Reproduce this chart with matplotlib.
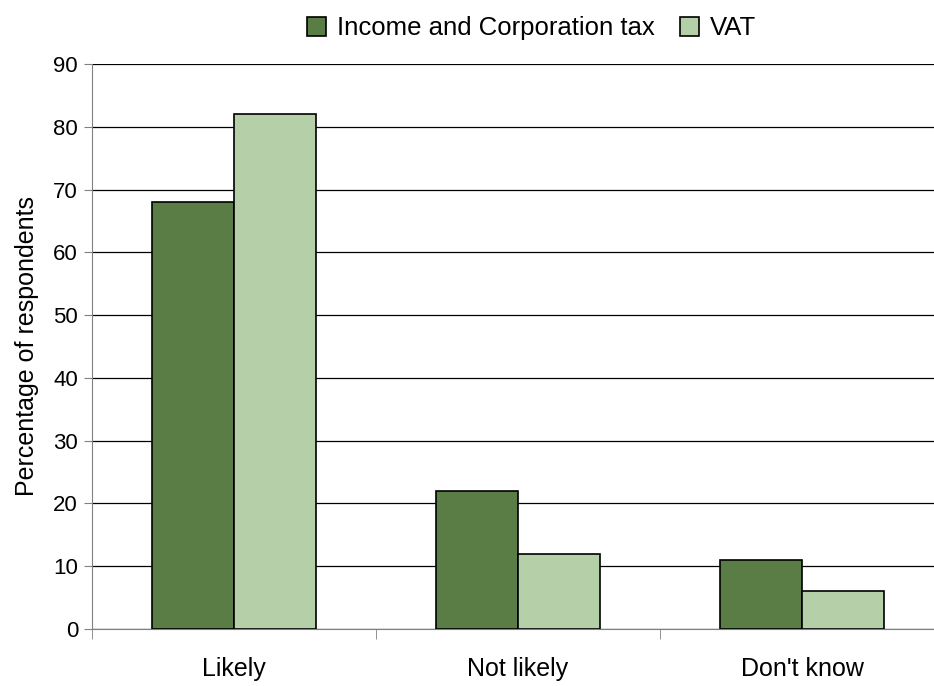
import numpy as np
import matplotlib.pyplot as plt

categories = ["Likely", "Not likely", "Don't know"]
income_corp = [68, 22, 11]
vat = [82, 12, 6]
series_names = ["Income and Corporation tax", "VAT"]
yticks = list(range(0, 91, 10))

plt.rcParams['font.family'] = ['Liberation Sans', 'DejaVu Sans']

fig = plt.figure(figsize=(9.34, 6.86), dpi=100)
ax = fig.add_axes([92 / 934, 57 / 686, 852 / 934, 565 / 686])

x = np.arange(len(categories))
w = 0.289
ax.bar(x - w / 2, income_corp, w, color='#5a7d45', edgecolor='black', linewidth=1.2,
       label=series_names[0], zorder=3)
ax.bar(x + w / 2, vat, w, color='#b5cfa9', edgecolor='black', linewidth=1.2,
       label=series_names[1], zorder=3)

ax.set_xlim(-0.5, len(categories) - 0.5)
ax.set_ylim(0, 90)
ax.set_yticks(yticks)
ax.yaxis.grid(True, color='black', linewidth=0.9, zorder=0)

ax.set_xticks(x)
ax.set_xticklabels(categories, fontsize=18)
ax.tick_params(axis='x', which='major', length=0, pad=20)
ax.set_xticks(np.arange(len(categories) + 1) - 0.5, minor=True)
ax.tick_params(axis='x', which='minor', length=7, color='#808080', direction='out')
ax.tick_params(axis='y', labelsize=16, length=6, color='#808080', pad=4)

for s in ['top', 'right']:
    ax.spines[s].set_visible(False)
ax.spines['left'].set_color('#808080')
ax.spines['bottom'].set_color('#808080')

ax.set_ylabel("Percentage of respondents", fontsize=18, labelpad=10)

fig.legend(loc='upper center', bbox_to_anchor=(0.569, 1.01), ncol=2, frameon=False,
           fontsize=18.5, handlelength=0.75, handleheight=0.75, handletextpad=0.4,
           columnspacing=1.0)

fig.savefig('out.png', dpi=100)
